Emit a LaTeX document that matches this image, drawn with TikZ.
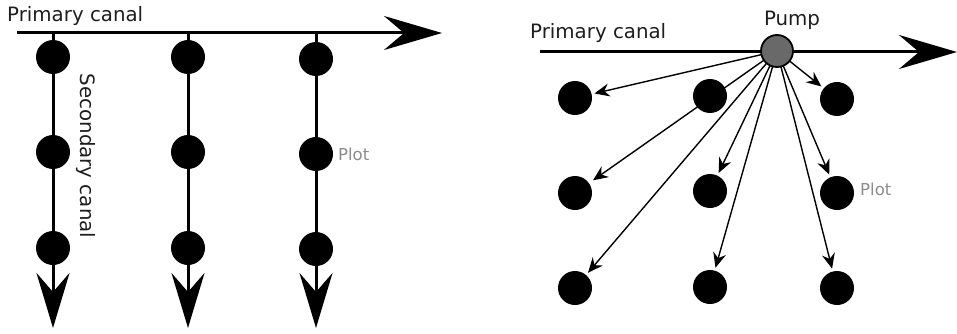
\documentclass[tikz,border=0pt]{standalone}
\usepackage{fontspec}
\setmainfont{DejaVu Sans}
\usetikzlibrary{arrows.meta,backgrounds}
\definecolor{pumpgray}{RGB}{105,105,105}
\definecolor{plotgray}{RGB}{140,140,140}
\definecolor{txt}{RGB}{30,30,30}
\begin{document}
\begin{tikzpicture}[x=1pt,y=-1pt,
 dot/.style={circle,fill=black,minimum size=34pt,inner sep=0pt,outer sep=0pt},
 pumpnode/.style={circle,fill=pumpgray,draw=black,line width=1.8pt,minimum size=32pt,inner sep=0pt},
 canal/.style={line width=3pt},
 bigarrow/.style={-{Stealth[length=58pt,width=34pt,inset=20pt]}},
 downarrow/.style={-{Stealth[length=55pt,width=33pt,inset=19pt]}},
 thinarrow/.style={line width=1.4pt,-{Stealth[length=15pt,width=13pt,inset=5pt]},shorten >=3pt},
 lbl/.style={font=\fontsize{19.8}{23}\selectfont,text=txt,inner sep=0pt},
 plotlbl/.style={font=\fontsize{16.5}{19}\selectfont,text=plotgray,inner sep=0pt}]
\useasboundingbox (0,0) rectangle (957,334);
% ---------- left panel ----------
\coordinate (ls) at (17,33);
\coordinate (le) at (442,33);
\coordinate (t1) at (53,33);  \coordinate (e1) at (53,328);
\coordinate (t2) at (188,33); \coordinate (e2) at (188,328);
\coordinate (t3) at (316,33); \coordinate (e3) at (316,328);
\draw[canal,bigarrow] (ls) -- (le);
\draw[canal,downarrow] (t1) -- (e1);
\draw[canal,downarrow] (t2) -- (e2);
\draw[canal,downarrow] (t3) -- (e3);
\node[dot] (l11) at (53,57) {};
\node[dot] (l12) at (53,152) {};
\node[dot] (l13) at (53,248) {};
\node[dot] (l21) at (188,57) {};
\node[dot] (l22) at (188,152) {};
\node[dot] (l23) at (188,248) {};
\node[dot] (l31) at (316,59) {};
\node[dot] (l32) at (316,154) {};
\node[dot] (l33) at (316,249) {};
\node[lbl,anchor=base west] (lpc) at (7,22) {Primary canal};
\node[lbl,rotate=-90] (lsc) at (86,156) {Secondary canal};
\node[plotlbl,anchor=west] (lplot) at (338,154) {Plot};
% ---------- right panel ----------
\coordinate (rs) at (540,52);
\coordinate (re) at (957,52);
\draw[canal,bigarrow] (rs) -- (re);
\node[pumpnode] (pump) at (777,51) {};
\node[dot] (r11) at (575,98) {};
\node[dot] (r12) at (575,193) {};
\node[dot] (r13) at (575,288) {};
\node[dot] (r21) at (710,96) {};
\node[dot] (r22) at (710,191) {};
\node[dot] (r23) at (710,287) {};
\node[dot] (r31) at (837,99) {};
\node[dot] (r32) at (837,193) {};
\node[dot] (r33) at (837,288) {};
\begin{scope}[on background layer]
\draw[thinarrow] (pump.center) -- (r11);
\draw[thinarrow,shorten >=5pt] (pump.center) -- (r12);
\draw[thinarrow] (pump.center) -- (r13);
\draw[thinarrow] (pump.center) -- (r22);
\draw[thinarrow] (pump.center) -- (r23);
\draw[thinarrow] (pump.center) -- (r31);
\draw[thinarrow] (pump.center) -- (r32);
\draw[thinarrow] (pump.center) -- (r33);
\end{scope}
\node[lbl,anchor=base west] (rpc) at (530,39) {Primary canal};
\node[lbl] (pumplbl) at (792,20) {Pump};
\node[plotlbl,anchor=west] (rplot) at (860,189) {Plot};
\end{tikzpicture}
\end{document}
